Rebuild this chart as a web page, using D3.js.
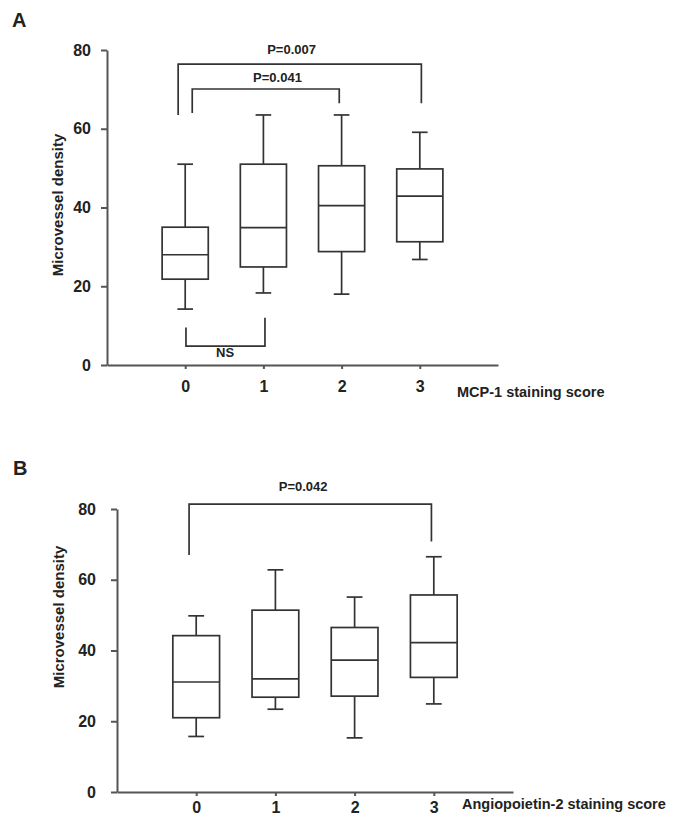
<!DOCTYPE html>
<html>
<head>
<meta charset="utf-8">
<script src="https://cdn.jsdelivr.net/npm/d3@7"></script>
<style>
  body { margin: 0; background: #fff; }
  text { font-family: "Liberation Sans", Arial, sans-serif; font-weight: bold; fill: #222; }
</style>
</head>
<body>
<div id="chart"></div>
<script>
// box plot values
const categories = [0, 1, 2, 3];
const yTicks = [0, 20, 40, 60, 80];

// panel A - MCP-1
const mcpHigh   = [51.0, 63.5, 63.5, 59.1];
const mcpQ3     = [35.0, 51.0, 50.6, 49.8];
const mcpMedian = [28.0, 34.9, 40.5, 42.9];
const mcpQ1     = [21.8, 24.9, 28.8, 31.3];
const mcpLow    = [14.2, 18.3, 18.0, 26.8];

// panel B - Angiopoietin-2
const angHigh   = [49.8, 62.8, 55.1, 66.5];
const angQ3     = [44.2, 51.4, 46.5, 55.7];
const angMedian = [31.1, 32.0, 37.3, 42.2];
const angQ1     = [21.0, 26.8, 27.1, 32.4];
const angLow    = [15.7, 23.4, 15.3, 24.9];

// significance brackets (in data units)
const mcpBrackets = [
  {x1: -0.09, x2: 3.02, y: 76.4, end1: 63.5, end2: 66.5, label: "P=0.007", lx: 1.36, ly: 79.0},
  {x1: 0.09, x2: 1.97, y: 70.1, end1: 64.0, end2: 66.5, label: "P=0.041", lx: 1.18, ly: 71.9},
  {x1: 0.01, x2: 1.02, y: 4.8, end1: 9.5, end2: 12.0, label: "NS", lx: 0.51, ly: 2.0}
];
const angBrackets = [
  {x1: -0.09, x2: 2.97, y: 81.4, end1: 67.0, end2: 70.8, label: "P=0.042", lx: 1.35, ly: 85.1}
];

const W = 678, H = 816;
const lineColor = "#333";

const svg = d3.select("#chart").append("svg")
  .attr("width", W)
  .attr("height", H);

function drawPanel(p) {
  const g = svg.append("g");
  let x = d3.scaleLinear().domain([-1, 4]).range(p.xRange);
  let y = d3.scaleLinear().domain([0, 80]).range(p.yRange);

  // panel letter
  g.append("text")
    .attr("x", p.letterPos[0]).attr("y", p.letterPos[1])
    .style("font-size", "20px")
    .text(p.letter);

  // axes
  const yAxis = g.append("g")
    .attr("transform", `translate(${p.xRange[0]},0)`)
    .call(d3.axisLeft(y).tickValues(yTicks).tickSize(6).tickSizeOuter(0).tickPadding(p.yPad));
  const xAxis = g.append("g")
    .attr("transform", `translate(0,${p.yRange[0]})`)
    .call(d3.axisBottom(x).tickValues(categories).tickSize(4).tickSizeOuter(0).tickPadding(p.xPad).tickFormat(d3.format("d")));
  [yAxis, xAxis].forEach(a => {
    a.selectAll("path, line").attr("stroke", "#555").attr("stroke-width", 2);
    a.selectAll("text").style("font-size", "16px").style("font-family", null).attr("fill", "#222");
  });

  // axis titles
  g.append("text")
    .attr("transform", `translate(${p.yTitlePos[0]},${p.yTitlePos[1]}) rotate(-90)`)
    .attr("text-anchor", "middle")
    .style("font-size", "15px")
    .text("Microvessel density");
  g.append("text")
    .attr("x", p.xTitlePos[0]).attr("y", p.xTitlePos[1])
    .style("font-size", "14.5px")
    .text(p.xTitle);

  // boxes
  const bw = 0.59, cw = 0.2;
  const boxes = g.append("g").attr("stroke", lineColor).attr("stroke-width", 1.7).attr("fill", "none");
  categories.forEach((c, i) => {
    const b = boxes.append("g");
    b.append("line").attr("x1", x(c)).attr("x2", x(c)).attr("y1", y(p.high[i])).attr("y2", y(p.q3[i]));
    b.append("line").attr("x1", x(c)).attr("x2", x(c)).attr("y1", y(p.q1[i])).attr("y2", y(p.low[i]));
    b.append("line").attr("x1", x(c - cw / 2)).attr("x2", x(c + cw / 2)).attr("y1", y(p.high[i])).attr("y2", y(p.high[i]));
    b.append("line").attr("x1", x(c - cw / 2)).attr("x2", x(c + cw / 2)).attr("y1", y(p.low[i])).attr("y2", y(p.low[i]));
    b.append("rect")
      .attr("x", x(c - bw / 2)).attr("width", x(c + bw / 2) - x(c - bw / 2))
      .attr("y", y(p.q3[i])).attr("height", y(p.q1[i]) - y(p.q3[i]));
    b.append("line").attr("x1", x(c - bw / 2)).attr("x2", x(c + bw / 2)).attr("y1", y(p.median[i])).attr("y2", y(p.median[i]));
  });

  // brackets
  p.brackets.forEach(br => {
    g.append("path")
      .attr("d", d3.line()([[x(br.x1), y(br.end1)], [x(br.x1), y(br.y)], [x(br.x2), y(br.y)], [x(br.x2), y(br.end2)]]))
      .attr("fill", "none").attr("stroke", lineColor).attr("stroke-width", 1.7);
    g.append("text")
      .attr("x", x(br.lx)).attr("y", y(br.ly))
      .attr("text-anchor", "middle")
      .style("font-size", "13px")
      .text(br.label);
  });
}

drawPanel({
  letter: "A", letterPos: [12, 27],
  xRange: [107, 498], yRange: [365, 50], yPad: 10, xPad: 12,
  xTitle: "MCP-1 staining score", xTitlePos: [457, 397],
  yTitlePos: [63, 205],
  high: mcpHigh, q3: mcpQ3, median: mcpMedian, q1: mcpQ1, low: mcpLow,
  brackets: mcpBrackets
});

drawPanel({
  letter: "B", letterPos: [13, 475],
  xRange: [117, 513], yRange: [792, 509], yPad: 15, xPad: 6,
  xTitle: "Angiopoietin-2 staining score", xTitlePos: [462, 809],
  yTitlePos: [64, 617],
  high: angHigh, q3: angQ3, median: angMedian, q1: angQ1, low: angLow,
  brackets: angBrackets
});
</script>
</body>
</html>
